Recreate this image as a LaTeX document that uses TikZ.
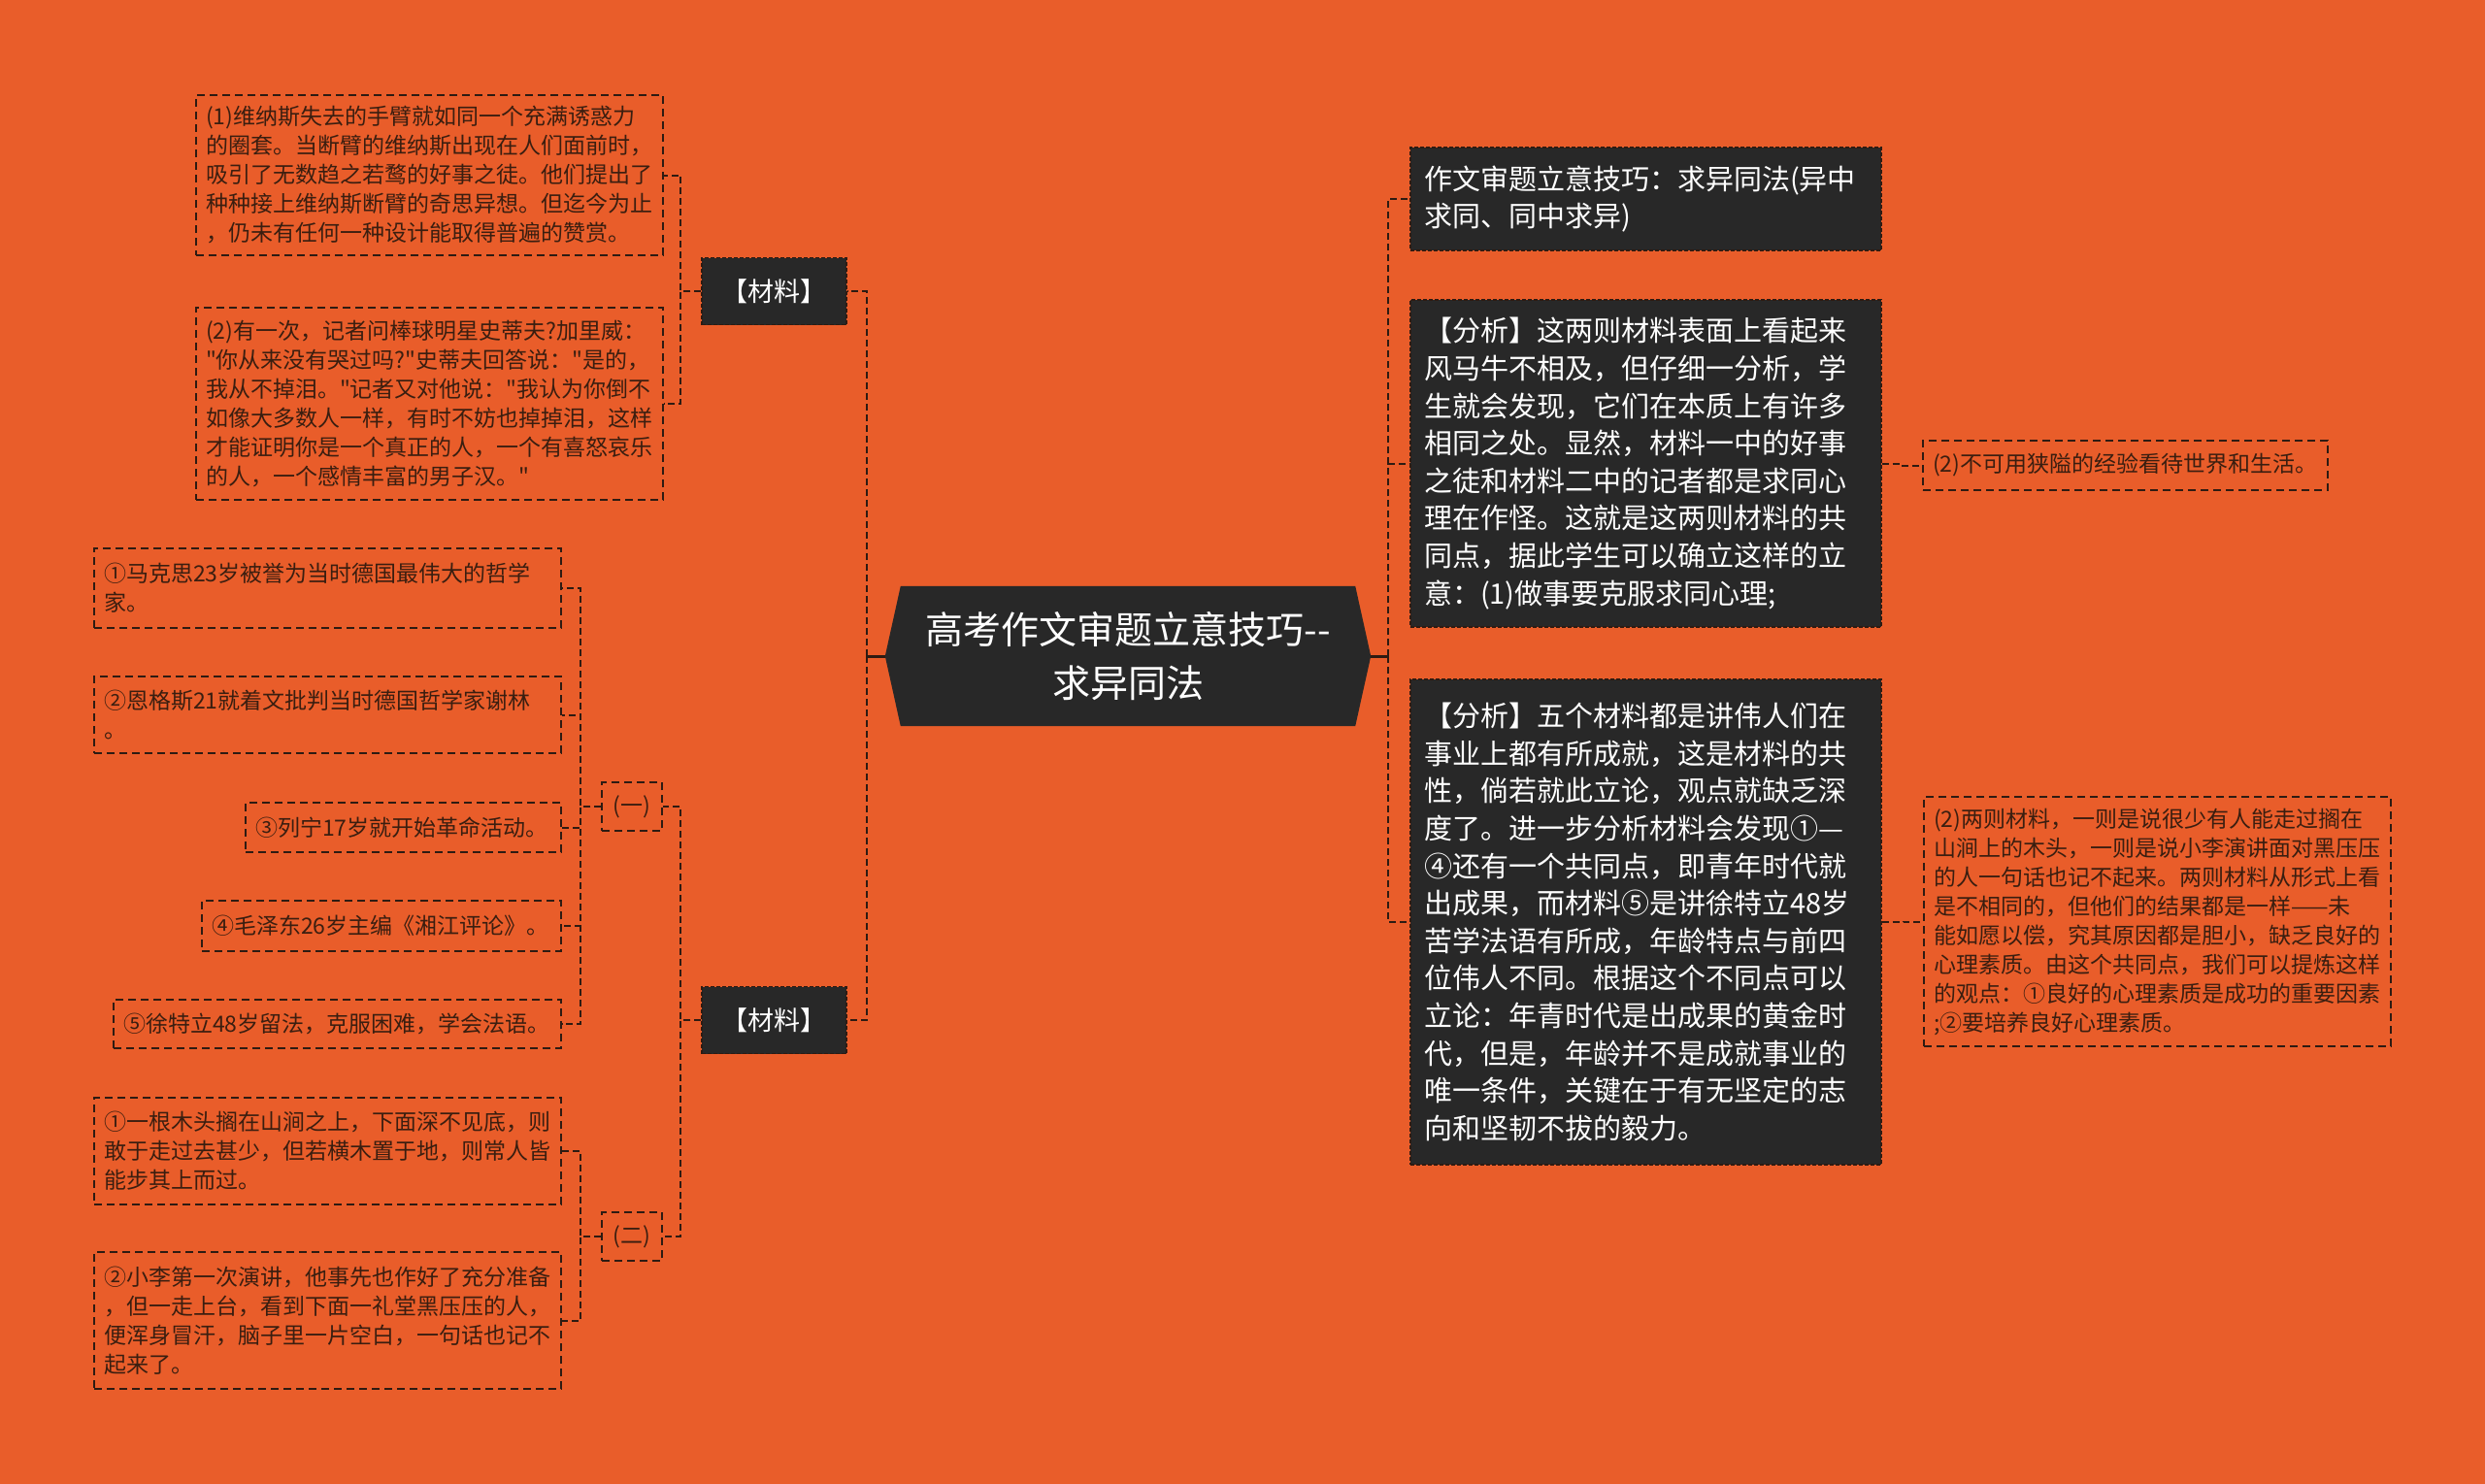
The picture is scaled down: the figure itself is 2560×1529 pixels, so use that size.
\documentclass[tikz,border=0pt]{standalone}
\usepackage{fontspec}
\setmainfont{Noto Sans CJK SC}[Ligatures=TeXOff]
\usetikzlibrary{backgrounds,calc}
\definecolor{bgor}{HTML}{E95D2A}
\definecolor{darkbox}{HTML}{282828}
\definecolor{ink}{HTML}{3A1E10}
\definecolor{lineink}{HTML}{2E1B12}
\tikzset{
  conn/.style={draw=lineink, line width=2pt, dash pattern=on 7pt off 4pt},
  solidconn/.style={draw=lineink, line width=3pt},
  lbox/.style={draw=lineink, line width=1.6pt, dash pattern=on 8pt off 5pt, text=ink, align=left,
    inner xsep=10pt, inner ysep=0pt, font=\fontsize{23}{30}\selectfont, anchor=center},
  dbox/.style={fill=darkbox, draw=lineink, line width=1.2pt, dash pattern=on 4pt off 2pt, text=white, align=left,
    inner xsep=14pt, inner ysep=0pt, font=\fontsize{29}{38.6}\selectfont, anchor=center},
  tagbox/.style={fill=darkbox, draw=lineink, line width=1.2pt, dash pattern=on 4pt off 2pt, text=white, align=center,
    inner sep=0pt, font=\fontsize{27}{32}\selectfont, minimum width=149pt, minimum height=69pt},
  secbox/.style={draw=lineink, line width=1.6pt, dash pattern=on 8pt off 5pt, text=ink, align=center,
    inner sep=0pt, font=\fontsize{23}{28}\selectfont, minimum width=62pt, minimum height=50pt},
}
\begin{document}
\begin{tikzpicture}[x=1pt,y=-1pt]
\useasboundingbox (0,0) rectangle (2560,1529);

% centre
\node[inner sep=0pt, minimum width=500pt, minimum height=144pt, text=white, align=center,
  font=\fontsize{39}{55}\selectfont] (c) at (1162,676) {高考作文审题立意技巧{-}{-}\\求异同法};
\begin{pgfonlayer}{background}
\fill[bgor] (0,0) rectangle (2560,1529);
\fill[darkbox] (c.west) -- ($(c.north west)+(16,0)$) -- ($(c.north east)+(-16,0)$) -- (c.east)
  -- ($(c.south east)+(-16,0)$) -- ($(c.south west)+(16,0)$) -- cycle;
\end{pgfonlayer}

% left level 1
\node[tagbox] (m1) at (797.5,300) {【材料】};
\node[tagbox] (m2) at (797.5,1051) {【材料】};

% left level 2 (material 1)
\node[lbox, text width=461pt, minimum height=165pt] (l1) at (442.5,180.5)
{(1)维纳斯失去的手臂就如同一个充满诱惑力\\的圈套。当断臂的维纳斯出现在人们面前时，\\吸引了无数趋之若鹜的好事之徒。他们提出了\\种种接上维纳斯断臂的奇思异想。但迄今为止\\，仍未有任何一种设计能取得普遍的赞赏。};
\node[lbox, text width=461pt, minimum height=198pt] (l2) at (442.5,416)
{(2)有一次，记者问棒球明星史蒂夫?加里威：\\"你从来没有哭过吗?"史蒂夫回答说："是的，\\我从不掉泪。"记者又对他说："我认为你倒不\\如像大多数人一样，有时不妨也掉掉泪，这样\\才能证明你是一个真正的人，一个有喜怒哀乐\\的人，一个感情丰富的男子汉。"};

% left level 2 (material 2)
\node[secbox] (g1) at (651,831) {(一)};
\node[secbox] (g2) at (651,1274) {(二)};

% group 1 items
\node[lbox, text width=461pt, minimum height=82pt] (a1) at (337.5,606)
{①马克思23岁被誉为当时德国最伟大的哲学\\家。};
\node[lbox, text width=461pt, minimum height=79pt] (a2) at (337.5,736.5)
{②恩格斯21就着文批判当时德国哲学家谢林\\。};
\node[lbox, text width=305pt, minimum height=51pt] (a3) at (415.5,852.5)
{③列宁17岁就开始革命活动。};
\node[lbox, text width=350pt, minimum height=52pt] (a4) at (393,954)
{④毛泽东26岁主编《湘江评论》。};
\node[lbox, text width=441pt, minimum height=50pt] (a5) at (347.5,1055)
{⑤徐特立48岁留法，克服困难，学会法语。};

% group 2 items
\node[lbox, text width=461pt, minimum height=110pt] (b1) at (337.5,1186)
{①一根木头搁在山涧之上，下面深不见底，则\\敢于走过去甚少，但若横木置于地，则常人皆\\能步其上而过。};
\node[lbox, text width=461pt, minimum height=141pt] (b2) at (337.5,1360.5)
{②小李第一次演讲，他事先也作好了充分准备\\，但一走上台，看到下面一礼堂黑压压的人，\\便浑身冒汗，脑子里一片空白，一句话也记不\\起来了。};

% right side
\node[dbox, text width=457pt, minimum height=106pt] (r1) at (1695.5,205)
{作文审题立意技巧：求异同法(异中\\求同、同中求异)};
\node[dbox, text width=457pt, minimum height=337pt] (r2) at (1695.5,477.5)
{【分析】这两则材料表面上看起来\\风马牛不相及，但仔细一分析，学\\生就会发现，它们在本质上有许多\\相同之处。显然，材料一中的好事\\之徒和材料二中的记者都是求同心\\理在作怪。这就是这两则材料的共\\同点，据此学生可以确立这样的立\\意：(1)做事要克服求同心理;};
\node[dbox, text width=457pt, minimum height=500pt] (r3) at (1695.5,950)
{【分析】五个材料都是讲伟人们在\\事业上都有所成就，这是材料的共\\性，倘若就此立论，观点就缺乏深\\度了。进一步分析材料会发现①—\\④还有一个共同点，即青年时代就\\出成果，而材料⑤是讲徐特立48岁\\苦学法语有所成，年龄特点与前四\\位伟人不同。根据这个不同点可以\\立论：年青时代是出成果的黄金时\\代，但是，年龄并不是成就事业的\\唯一条件，关键在于有无坚定的志\\向和坚韧不拔的毅力。};
\node[lbox, text width=397pt, minimum height=51pt] (r2c) at (2189.5,479.5)
{(2)不可用狭隘的经验看待世界和生活。};
\node[lbox, text width=461pt, minimum height=257pt] (r3c) at (2222.5,949.5)
{(2)两则材料，一则是说很少有人能走过搁在\\山涧上的木头，一则是说小李演讲面对黑压压\\的人一句话也记不起来。两则材料从形式上看\\是不相同的，但他们的结果都是一样——未\\能如愿以偿，究其原因都是胆小，缺乏良好的\\心理素质。由这个共同点，我们可以提炼这样\\的观点：①良好的心理素质是成功的重要因素\\;②要培养良好心理素质。};

% connectors
\coordinate (cl) at ($(c.west)+(-19,0)$);
\coordinate (cr) at ($(c.east)+(18,0)$);
\draw[solidconn] (c.west) -- (cl);
\draw[solidconn] (c.east) -- (cr);
\draw[conn] (cl) |- (m1.east);
\draw[conn] (cl) |- (m2.east);
\draw[conn] (m1.west) -- ++(-21,0) |- (l1.east);
\draw[conn] (m1.west) -- ++(-21,0) |- (l2.east);
\draw[conn] (m2.west) -- ++(-21,0) |- (g1.east);
\draw[conn] (m2.west) -- ++(-21,0) |- (g2.east);
\foreach \t in {a1,a2,a3,a4,a5}{
  \draw[conn] (g1.west) -- ++(-21,0) |- (\t.east);
}
\foreach \t in {b1,b2}{
  \draw[conn] (g2.west) -- ++(-21,0) |- (\t.east);
}
\draw[conn] (cr) |- (r1.west);
\draw[conn] (cr) |- (r2.west);
\draw[conn] (cr) |- (r3.west);
\draw[conn] (r2.east) -- ++(21,0) |- (r2c.west);
\draw[conn] (r3.east) -- ++(22,0) |- (r3c.west);
\end{tikzpicture}
\end{document}
